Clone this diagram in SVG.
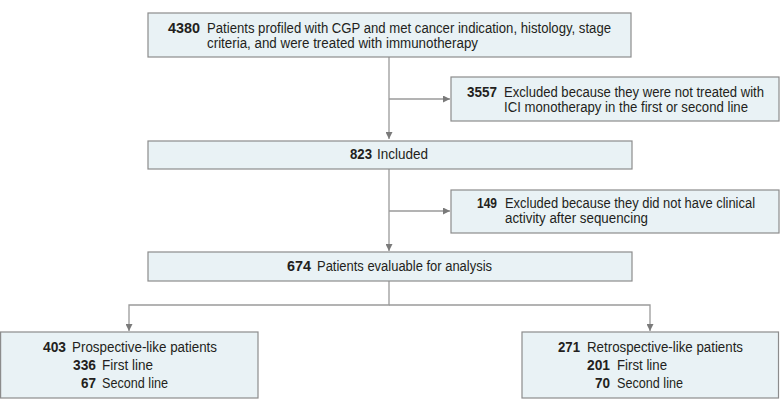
<svg xmlns="http://www.w3.org/2000/svg" width="780" height="411" viewBox="0 0 780 411">
<style>
.box{fill:#e9f2f5;stroke:#8c8c8c;stroke-width:1.2}
.t{font-family:"Liberation Sans",Arial,sans-serif;font-size:14px;fill:#231f20}
.n{font-weight:bold;text-anchor:start}
.c{stroke:#9a9a9a;stroke-width:1.3;fill:none}
</style>
<defs>
<marker id="ah" viewBox="0 0 10 10" refX="10" refY="5" markerWidth="7" markerHeight="7" markerUnits="userSpaceOnUse" orient="auto">
<path d="M0,0 L10,5 L0,10 z" fill="#7a7a7a"/>
</marker>
</defs>
<g id="connectors">
<path class="c" d="M389,57 V139" marker-end="url(#ah)"/>
<path class="c" d="M389,99 H450" marker-end="url(#ah)"/>
<path class="c" d="M389,169 V251" marker-end="url(#ah)"/>
<path class="c" d="M389,211 H450" marker-end="url(#ah)"/>
<path class="c" d="M389,281 V305 H129 V331" marker-end="url(#ah)"/>
<path class="c" d="M389,305 H650 V331" marker-end="url(#ah)"/>
</g>
<g id="n4380">
<rect class="box" x="148" y="13" width="483" height="44"/>
<text class="t n" x="168" y="33" textLength="32" lengthAdjust="spacingAndGlyphs">4380</text>
<text class="t" x="207" y="33" textLength="404" lengthAdjust="spacingAndGlyphs">Patients profiled with CGP and met cancer indication, histology, stage</text>
<text class="t" x="207" y="48" textLength="271" lengthAdjust="spacingAndGlyphs">criteria, and were treated with immunotherapy</text>
</g>
<g id="n3557">
<rect class="box" x="451" y="77" width="328" height="44"/>
<text class="t n" x="467" y="97" textLength="30" lengthAdjust="spacingAndGlyphs">3557</text>
<text class="t" x="504" y="97" textLength="260" lengthAdjust="spacingAndGlyphs">Excluded because they were not treated with</text>
<text class="t" x="504" y="112" textLength="244" lengthAdjust="spacingAndGlyphs">ICI monotherapy in the first or second line</text>
</g>
<g id="n823">
<rect class="box" x="148" y="141" width="484" height="28"/>
<text class="t n" x="350" y="159" textLength="22" lengthAdjust="spacingAndGlyphs">823</text>
<text class="t" x="377" y="159" textLength="51" lengthAdjust="spacingAndGlyphs">Included</text>
</g>
<g id="n149">
<rect class="box" x="451" y="190" width="328" height="43"/>
<text class="t n" x="477" y="208" textLength="20" lengthAdjust="spacingAndGlyphs">149</text>
<text class="t" x="505" y="208" textLength="250" lengthAdjust="spacingAndGlyphs">Excluded because they did not have clinical</text>
<text class="t" x="505" y="223" textLength="143" lengthAdjust="spacingAndGlyphs">activity after sequencing</text>
</g>
<g id="n674">
<rect class="box" x="148" y="252" width="484" height="29"/>
<text class="t n" x="287" y="271" textLength="24" lengthAdjust="spacingAndGlyphs">674</text>
<text class="t" x="317" y="271" textLength="175" lengthAdjust="spacingAndGlyphs">Patients evaluable for analysis</text>
</g>
<g id="n403">
<rect class="box" x="0.6" y="332" width="257.4" height="66"/>
<text class="t n" x="43" y="352" textLength="23" lengthAdjust="spacingAndGlyphs">403</text>
<text class="t" x="72" y="352" textLength="145" lengthAdjust="spacingAndGlyphs">Prospective-like patients</text>
<text class="t n" x="73" y="370" textLength="23" lengthAdjust="spacingAndGlyphs">336</text>
<text class="t" x="102" y="370" textLength="51" lengthAdjust="spacingAndGlyphs">First line</text>
<text class="t n" x="81" y="388" textLength="15" lengthAdjust="spacingAndGlyphs">67</text>
<text class="t" x="102" y="388" textLength="66" lengthAdjust="spacingAndGlyphs">Second line</text>
</g>
<g id="n271">
<rect class="box" x="522" y="332" width="256.5" height="66"/>
<text class="t n" x="558" y="352" textLength="22" lengthAdjust="spacingAndGlyphs">271</text>
<text class="t" x="587" y="352" textLength="156" lengthAdjust="spacingAndGlyphs">Retrospective-like patients</text>
<text class="t n" x="587" y="370" textLength="23" lengthAdjust="spacingAndGlyphs">201</text>
<text class="t" x="617" y="370" textLength="50" lengthAdjust="spacingAndGlyphs">First line</text>
<text class="t n" x="595" y="388" textLength="15" lengthAdjust="spacingAndGlyphs">70</text>
<text class="t" x="617" y="388" textLength="66" lengthAdjust="spacingAndGlyphs">Second line</text>
</g>
</svg>
